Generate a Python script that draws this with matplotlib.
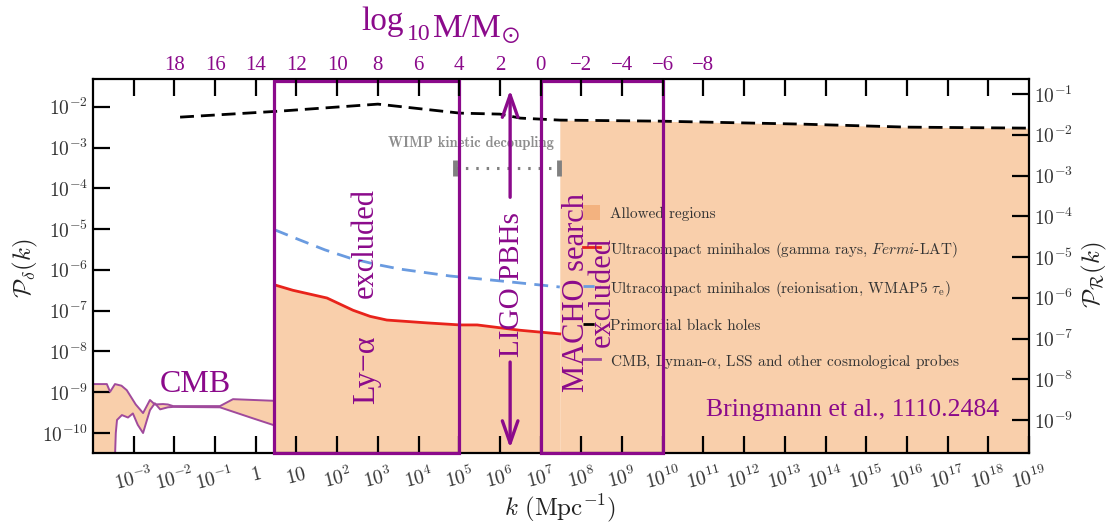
import numpy as np
import matplotlib
matplotlib.use('Agg')
import matplotlib.pyplot as plt
from matplotlib.patches import Rectangle, Patch
from matplotlib.lines import Line2D

plt.rcParams['mathtext.fontset'] = 'cm'

# ---------------- data (log10 units) ----------------
# CMB / LSS allowed band
cmb_up_logk = [-4.0, -3.66, -3.58, -3.46, -3.30, -3.17, -2.95, -2.77, -2.60, -2.48, -2.28, -2.16, -2.03, -0.88, -0.56, 0.45]
cmb_up_logP = [-8.80, -8.80, -8.99, -8.80, -8.84, -8.95, -9.30, -9.51, -9.19, -9.30, -9.29, -9.30, -9.34, -9.34, -9.17, -9.21]
cmb_lo_logk = [-3.46, -3.44, -3.41, -3.29, -3.14, -3.02, -2.90, -2.77, -2.68, -2.60, -2.48, -2.35, -2.16, -2.03, -0.88, -0.07, 0.45]
cmb_lo_logP = [-10.6, -10.0, -9.68, -9.56, -9.62, -9.52, -9.80, -10.0, -9.70, -9.44, -9.27, -9.42, -9.37, -9.36, -9.37, -9.64, -9.81]

# Ultracompact minihalos, gamma rays (Fermi-LAT)
red_logk = [0.47, 0.91, 1.75, 2.39, 2.81, 3.22, 4.21, 5.02, 5.44, 6.49, 7.47]
red_logP = [-6.37, -6.50, -6.69, -6.99, -7.14, -7.23, -7.30, -7.35, -7.35, -7.48, -7.57]

# Ultracompact minihalos, reionisation (WMAP5)
blue_logk = [0.47, 1.09, 1.70, 2.31, 2.93, 3.54, 4.77, 6.00, 7.47]
blue_logP = [-5.02, -5.27, -5.51, -5.71, -5.86, -5.98, -6.15, -6.27, -6.42]

# Primordial black holes
pbh_logk = [-1.86, 0.59, 3.0, 5.02, 6.0, 6.5, 7.47, 9.9, 13.4, 16.0, 19.0]
pbh_logP = [-2.255, -2.108, -1.936, -2.157, -2.181, -2.279, -2.328, -2.353, -2.426, -2.50, -2.525]

# WIMP kinetic decoupling range
wimp_logk = [4.9, 7.45]
wimp_logP = -3.50

# excluded-region boxes (log k ranges)
lya_box_logk = [0.447, 4.99]
macho_box_logk = [7.01, 10.0]
box_top_logP = -1.37

# LIGO arrow
ligo_logk = 6.25
ligo_up_logP = [-4.22, -1.59]
ligo_dn_logP = [-8.26, -10.37]

# ticks
k_tick_exp = list(range(-3, 20))
k_tick_labels = ['$10^{-3}$', '$10^{-2}$', '$10^{-1}$', '$1$', '$10$'] + ['$10^{%d}$' % e for e in range(2, 20)]
left_tick_exp = list(range(-10, -1))
right_tick_exp = list(range(-9, 0))
top_tick_exp = list(range(-3, 19))
top_mass_labels = ['', '18', '16', '14', '12', '10', '8', '6', '4', '2', '0',
                   '\u22122', '\u22124', '\u22126', '\u22128', '', '', '', '', '', '', '']

legend_labels = ['Allowed regions',
                 r'Ultracompact minihalos (gamma rays, $\mathit{Fermi}$-LAT)',
                 r'Ultracompact minihalos (reionisation, WMAP5 $\tau_{\rm e}$)',
                 'Primordial black holes',
                 r'CMB, Lyman-$\alpha$, LSS and other cosmological probes']

# ---------------- style ----------------
ORANGE = '#f9cfab'
LEG_ORANGE = '#f3b27f'
PURPLE = '#8b0a8b'
CMB_PURPLE = '#a04a9c'
RED = '#e8231b'
BLUE = '#6a9be0'
GRAY = '#808080'
TXT = '#333333'
W, H = 1115, 529

def fxy(x, y):
    return x / W, 1 - y / H

fig = plt.figure(figsize=(W / 100, H / 100), dpi=100)
ax = fig.add_axes([93 / W, 1 - 453 / H, (1029 - 93) / W, (453 - 79) / H])
ax.set_xscale('log')
ax.set_yscale('log')
XLIM = (1e-4, 1e19)
YB, YT = -10.49, -1.32
ax.set_xlim(*XLIM)
ax.set_ylim(10 ** YB, 10 ** YT)

ax2 = ax.twinx()
ax3 = ax.twiny()

P = lambda a: 10 ** np.asarray(a, dtype=float)

# CMB band
poly_k = np.r_[cmb_up_logk, cmb_lo_logk[::-1], -4.0]
poly_P = np.r_[cmb_up_logP, cmb_lo_logP[::-1], -10.6]
ax.fill(P(poly_k), P(poly_P), color=ORANGE, lw=0, zorder=1)
ax.plot(P(cmb_up_logk), P(cmb_up_logP), color=CMB_PURPLE, lw=1.4, zorder=2)
ax.plot(P(cmb_lo_logk), P(cmb_lo_logP), color=CMB_PURPLE, lw=1.4, zorder=2)

# region below red curve
ax.fill_between(P(red_logk), 10 ** -10.6, P(red_logP), color=ORANGE, lw=0, zorder=1)
# region below PBH curve at high k
pk = np.array(pbh_logk)
pp = np.array(pbh_logP)
m = pk >= 7.47
ax.fill_between(P(pk[m]), 10 ** -10.6, P(pp[m]), color=ORANGE, lw=0, zorder=1)

ax.plot(P(red_logk), P(red_logP), color=RED, lw=2.0, zorder=3)
ax.plot(P(blue_logk), P(blue_logP), color=BLUE, lw=2.0, ls=(0, (5, 3)), zorder=3)
ax.plot(P(pbh_logk), P(pbh_logP), color='black', lw=2.0, ls=(0, (5, 2.5)), zorder=3)

# WIMP kinetic decoupling
ax.plot(P(wimp_logk), [10 ** wimp_logP] * 2, color=GRAY, lw=2.2, ls=(0, (0.8, 2.6)), zorder=3)
ax.plot(P(wimp_logk), [10 ** wimp_logP] * 2, color=GRAY, ls='none', marker='|', ms=11, mew=3.5, zorder=3)
ax.text(10 ** np.mean(wimp_logk) / 10 ** 0.9, 10 ** (wimp_logP + 0.62), 'WIMP kinetic decoupling',
        ha='center', va='center', family='cmb10', fontsize=10.5, color='#8e8e8e', zorder=3)

# excluded boxes
for lk in (lya_box_logk, macho_box_logk):
    r = Rectangle((10 ** lk[0], 10 ** YB), 10 ** lk[1] - 10 ** lk[0], 10 ** box_top_logP - 10 ** YB,
                  fill=False, edgecolor=PURPLE, lw=2.3, zorder=7, clip_on=False)
    ax.add_patch(r)

# LIGO arrows
aprops = dict(arrowstyle='->,head_length=0.8,head_width=0.28', color=PURPLE, lw=2.4,
              shrinkA=0, shrinkB=0, mutation_scale=20)
ax.annotate('', xy=(10 ** ligo_logk, 10 ** ligo_up_logP[1]), xytext=(10 ** ligo_logk, 10 ** ligo_up_logP[0]),
            arrowprops=aprops, annotation_clip=False, zorder=7)
ax.annotate('', xy=(10 ** ligo_logk, 10 ** ligo_dn_logP[1]), xytext=(10 ** ligo_logk, 10 ** ligo_dn_logP[0]),
            arrowprops=aprops, annotation_clip=False, zorder=7)

# legend
handles = [Patch(facecolor=LEG_ORANGE, edgecolor='none'),
           Line2D([], [], color=RED, lw=2),
           Line2D([], [], color=BLUE, lw=2, ls=(0, (4, 2))),
           Line2D([], [], color='black', lw=2, ls=(0, (4, 2))),
           Line2D([], [], color=CMB_PURPLE, lw=2)]
leg = ax.legend(handles, legend_labels, loc='upper left', bbox_to_anchor=fxy(583, 205),
                bbox_transform=fig.transFigure, frameon=False,
                prop={'family': 'cmr10', 'size': 11}, handlelength=1.1, handleheight=1.1,
                handletextpad=0.7, labelspacing=1.25, borderpad=0, borderaxespad=0)
leg.set_zorder(5)
for t in leg.get_texts():
    t.set_color(TXT)

# ---------------- axes / ticks ----------------
ax.set_xticks(P(k_tick_exp), k_tick_labels)
ax.set_yticks(P(left_tick_exp), ['$10^{%d}$' % e for e in left_tick_exp])
ax.minorticks_off()
ax.tick_params(axis='both', which='major', direction='in', length=12, width=1.6,
               labelsize=14, labelcolor=TXT)
ax.tick_params(axis='x', pad=8)
for lab in ax.get_xticklabels():
    lab.set_rotation(14)
for s in ax.spines.values():
    s.set_linewidth(1.6)
    s.set_zorder(6)

ax2.set_yscale('log')
ax2.set_ylim(10 ** -9.81, 10 ** -0.63)
ax2.set_yticks(P(right_tick_exp), ['$10^{%d}$' % e for e in right_tick_exp])
ax2.minorticks_off()
ax2.tick_params(axis='y', which='major', direction='in', length=12, width=1.6,
                labelsize=14, labelcolor=TXT)
for s in ax2.spines.values():
    s.set_visible(False)

ax3.set_xscale('log')
ax3.set_xlim(*XLIM)
ax3.set_xticks(P(top_tick_exp), top_mass_labels, fontfamily='Liberation Serif')
ax3.minorticks_off()
ax3.tick_params(axis='x', which='major', direction='in', length=12, width=1.6,
                labelsize=15, labelcolor=PURPLE, pad=3)
for s in ax3.spines.values():
    s.set_visible(False)

# axis labels
fig.text(*fxy(560, 508), r'$k\ (\mathrm{Mpc}^{-1})$', ha='center', va='center', fontsize=18, color='#222222')
fig.text(*fxy(25, 268), r'$\mathcal{P}_\delta(k)$', ha='center', va='center', rotation=90, fontsize=18, color='#222222')
fig.text(*fxy(1094, 275), r'$\mathcal{P}_\mathcal{R}(k)$', ha='center', va='center', rotation=90, fontsize=18, color='#222222')

# top title
sf = 'Liberation Serif'
fig.text(*fxy(404, 30), 'log', ha='right', va='baseline', fontsize=24, family=sf, color=PURPLE)
fig.text(*fxy(407, 40), '10', ha='left', va='baseline', fontsize=17, family=sf, color=PURPLE)
fig.text(*fxy(432, 38), r'M/M$_{\odot}$', ha='left', va='baseline', fontsize=24, family=sf,
         color=PURPLE, math_fontfamily='stix')

# purple annotations
fig.text(*fxy(195, 384), 'CMB', ha='center', va='center', fontsize=23, family=sf, color=PURPLE, zorder=8)
fig.text(*fxy(367, 370), 'Ly\u2212\u03b1', ha='center', va='center', rotation=90, fontsize=23, family=sf, color=PURPLE, zorder=8)
fig.text(*fxy(365, 243), 'excluded', ha='center', va='center', rotation=90, fontsize=22, family=sf, color=PURPLE, zorder=8)
fig.text(*fxy(512, 285), 'LIGO PBHs', ha='center', va='center', rotation=90, fontsize=21, family=sf, color=PURPLE, zorder=8)
fig.text(*fxy(589, 292), 'MACHO search\nexcluded', ha='center', va='center', rotation=90, fontsize=22,
         family=sf, color=PURPLE, linespacing=0.85, multialignment='center', zorder=8)
fig.text(*fxy(853, 410), 'Bringmann et al., 1110.2484', ha='center', va='center', fontsize=18.5, family=sf,
         color=PURPLE, zorder=8)

fig.savefig('out.png', dpi=100)
